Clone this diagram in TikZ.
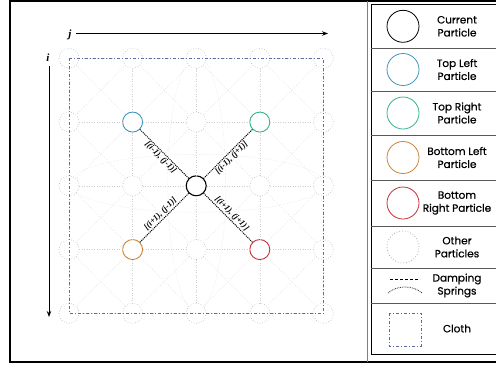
\documentclass[tikz,border=0pt]{standalone}
\usepackage{fontspec}
\newfontfamily\legfont[FakeBold=0.6]{Poppins}
\newfontfamily\labfont{Liberation Serif}
\usetikzlibrary{arrows.meta}

\definecolor{tlblue}{RGB}{60,150,190}
\definecolor{trgreen}{RGB}{50,180,140}
\definecolor{blorange}{RGB}{205,130,55}
\definecolor{brred}{RGB}{200,45,60}
\definecolor{gridgray}{RGB}{205,205,210}
\definecolor{clothblue}{RGB}{95,105,165}

\tikzset{
  particle/.style={draw, circle, minimum size=20pt, inner sep=0pt, fill=white},
  other/.style={particle, draw=gray!60, dotted, line width=0.6pt},
  cell 1-1/.style={draw=tlblue, solid, line width=0.9pt},
  cell 1-3/.style={draw=trgreen, solid, line width=0.9pt},
  cell 2-2/.style={draw=black, solid, line width=1.1pt},
  cell 3-1/.style={draw=blorange, solid, line width=0.9pt},
  cell 3-3/.style={draw=brred, solid, line width=0.9pt},
  mesh/.style={gridgray, dotted, line width=0.5pt},
  spring/.style={gridgray!70, densely dotted, line width=0.4pt},
  cloth/.style={clothblue, dash pattern=on 3pt off 2pt on 1pt off 2pt, line width=0.7pt},
  link/.style={black, densely dotted, line width=1pt},
  linklabel/.style={font=\labfont\bfseries\itshape\fontsize{8.5}{8.5}\selectfont, sloped, inner sep=1pt},
  axis/.style={line width=1pt, -{Stealth[length=6pt, width=4.5pt]}},
  axislabel/.style={font=\labfont\bfseries\itshape\fontsize{11}{11}\selectfont, inner sep=1pt},
  legtext/.style={font=\legfont\fontsize{10.5}{13}\selectfont, align=center},
  legmark/.style={circle, minimum size=32pt, inner sep=0pt, line width=0.8pt},
}

\begin{document}
\begin{tikzpicture}[x=1pt, y=-1pt]
\useasboundingbox (0,0) rectangle (496,365);

% frame
\draw[line width=2pt] (9.5,1) rectangle (520,362);
\draw[gray, line width=0.8pt] (367,1) -- (367,362);

% damping springs
\coordinate (mid) at (196.7,183.3);
\draw[spring] (mid) ellipse [x radius=127, y radius=29];
\draw[spring] (mid) ellipse [x radius=29, y radius=128];

% particles
\foreach \r in {0,...,4} {
  \foreach \c in {0,...,4} {
    \node[other, cell \r-\c/.try] (p-\r-\c) at ({69+63.6*\c},{58.3+63.75*\r}) {};
  }
}

% mesh
\foreach \r in {0,...,4} {
  \foreach \c [evaluate=\c as \n using int(\c+1)] in {0,...,3} {
    \draw[mesh] (p-\r-\c) -- (p-\r-\n);
    \draw[mesh] (p-\c-\r) -- (p-\n-\r);
  }
}
\foreach \r [evaluate=\r as \s using int(\r+1)] in {0,...,3} {
  \foreach \c [evaluate=\c as \n using int(\c+1)] in {0,...,3} {
    \draw[mesh] (p-\r-\c) -- (p-\s-\n);
    \draw[mesh] (p-\r-\n) -- (p-\s-\c);
  }
}

% cloth
\draw[cloth] (p-0-0.center) rectangle (p-4-4.center);

% neighbours
\draw[link] (p-1-1) -- node[linklabel, below] {[(i-1), (j-1)]} (p-2-2);
\draw[link] (p-2-2) -- node[linklabel, below] {[(i-1), (j+1)]} (p-1-3);
\draw[link] (p-3-1) -- node[linklabel, above] {[(i+1), (j-1)]} (p-2-2);
\draw[link] (p-2-2) -- node[linklabel, above] {[(i+1), (j+1)]} (p-3-3);

% axes
\node[axislabel] (jlab) at (70,35) {j};
\coordinate (jend) at (328,33.5);
\draw[axis] ([xshift=3pt]jlab.east |- jend) -- (jend);
\node[axislabel] (ilab) at (48,58) {i};
\coordinate (iend) at (49,317);
\draw[axis] ([yshift=-3pt]ilab.south -| iend) -- (iend);

% legend
\draw[line width=1pt] (371,4.5) rectangle (520,354);
\foreach \y in {48,91,135,180,226,268,303}
  \draw[gray!70!black, line width=0.6pt] (371,\y) -- (520,\y);

\node[legmark, draw=black] (mcur) at (403,26.3) {};
\node[legtext] (tcur) at (457,26.3) {Current\\Particle};
\node[legmark, draw=tlblue] (mtl) at (403,69.5) {};
\node[legtext] (ttl) at (457,69.5) {Top Left\\Particle};
\node[legmark, draw=trgreen] (mtr) at (403,113) {};
\node[legtext] (ttr) at (457,113) {Top Right\\Particle};
\node[legmark, draw=blorange] (mbl) at (403,157.5) {};
\node[legtext] (tbl) at (457,157.5) {Bottom Left\\Particle};
\node[legmark, draw=brred] (mbr) at (403,203) {};
\node[legtext] (tbr) at (457,203) {Bottom\\Right Particle};
\node[legmark, draw=gray!65, dotted] (mot) at (403,247) {};
\node[legtext] (tot) at (457,247) {Other\\Particles};

\draw[black, densely dashed, line width=0.6pt] (390,279) -- (420,279);
\draw[black, densely dotted, line width=0.7pt] (388,293) .. controls (397,285) and (413,285) .. (422,293);
\node[legtext] (tds) at (457,285.5) {Damping\\Springs};

\draw[cloth] (389,313) rectangle (421,346);
\node[legtext] (tcl) at (457,328.5) {Cloth};
\end{tikzpicture}
\end{document}
